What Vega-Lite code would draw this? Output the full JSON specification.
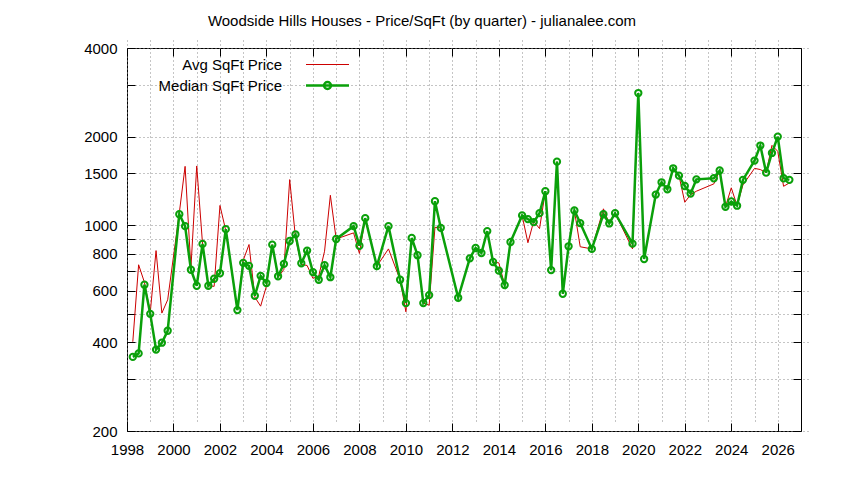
{
  "$schema": "https://vega.github.io/schema/vega-lite/v6.json",
  "description": "Woodside Hills houses, price per square foot by quarter",
  "width": 674,
  "height": 383,
  "autosize": {"type": "none"},
  "padding": {"left": 127, "top": 48, "right": 43, "bottom": 49},
  "background": "white",
  "title": {
    "text": "Woodside Hills Houses - Price/SqFt (by quarter) - julianalee.com",
    "font": "Liberation Sans",
    "fontSize": 15,
    "fontWeight": "normal",
    "color": "black",
    "anchor": "middle",
    "dx": -42,
    "offset": 12
  },
  "config": {
    "font": "Liberation Sans",
    "view": {"stroke": "black", "strokeWidth": 1},
    "axis": {
      "labelFont": "Liberation Sans",
      "labelFontSize": 15,
      "labelColor": "black",
      "labelFlush": false,
      "tickColor": "black",
      "domain": false,
      "title": null
    },
    "axisX": {"tickSize": 8, "offset": -8},
    "axisY": {"tickSize": 8, "offset": -8}
  },
  "data": {
    "values": [
      {"year": 1998.25, "series": "Median SqFt Price", "price": 357},
      {"year": 1998.5, "series": "Median SqFt Price", "price": 367},
      {"year": 1998.75, "series": "Median SqFt Price", "price": 628},
      {"year": 1999.0, "series": "Median SqFt Price", "price": 500},
      {"year": 1999.25, "series": "Median SqFt Price", "price": 378},
      {"year": 1999.5, "series": "Median SqFt Price", "price": 399},
      {"year": 1999.75, "series": "Median SqFt Price", "price": 438},
      {"year": 2000.25, "series": "Median SqFt Price", "price": 1090},
      {"year": 2000.5, "series": "Median SqFt Price", "price": 993},
      {"year": 2000.75, "series": "Median SqFt Price", "price": 706},
      {"year": 2001.0, "series": "Median SqFt Price", "price": 623},
      {"year": 2001.25, "series": "Median SqFt Price", "price": 864},
      {"year": 2001.5, "series": "Median SqFt Price", "price": 623},
      {"year": 2001.75, "series": "Median SqFt Price", "price": 658},
      {"year": 2002.0, "series": "Median SqFt Price", "price": 687},
      {"year": 2002.25, "series": "Median SqFt Price", "price": 970},
      {"year": 2002.75, "series": "Median SqFt Price", "price": 515},
      {"year": 2003.0, "series": "Median SqFt Price", "price": 745},
      {"year": 2003.25, "series": "Median SqFt Price", "price": 728},
      {"year": 2003.5, "series": "Median SqFt Price", "price": 576},
      {"year": 2003.75, "series": "Median SqFt Price", "price": 673},
      {"year": 2004.0, "series": "Median SqFt Price", "price": 636},
      {"year": 2004.25, "series": "Median SqFt Price", "price": 859},
      {"year": 2004.5, "series": "Median SqFt Price", "price": 671},
      {"year": 2004.75, "series": "Median SqFt Price", "price": 739},
      {"year": 2005.0, "series": "Median SqFt Price", "price": 884},
      {"year": 2005.25, "series": "Median SqFt Price", "price": 931},
      {"year": 2005.5, "series": "Median SqFt Price", "price": 743},
      {"year": 2005.75, "series": "Median SqFt Price", "price": 820},
      {"year": 2006.0, "series": "Median SqFt Price", "price": 693},
      {"year": 2006.25, "series": "Median SqFt Price", "price": 653},
      {"year": 2006.5, "series": "Median SqFt Price", "price": 732},
      {"year": 2006.75, "series": "Median SqFt Price", "price": 666},
      {"year": 2007.0, "series": "Median SqFt Price", "price": 898},
      {"year": 2007.75, "series": "Median SqFt Price", "price": 993},
      {"year": 2008.0, "series": "Median SqFt Price", "price": 852},
      {"year": 2008.25, "series": "Median SqFt Price", "price": 1057},
      {"year": 2008.75, "series": "Median SqFt Price", "price": 726},
      {"year": 2009.25, "series": "Median SqFt Price", "price": 993},
      {"year": 2009.75, "series": "Median SqFt Price", "price": 653},
      {"year": 2010.0, "series": "Median SqFt Price", "price": 544},
      {"year": 2010.25, "series": "Median SqFt Price", "price": 905},
      {"year": 2010.5, "series": "Median SqFt Price", "price": 791},
      {"year": 2010.75, "series": "Median SqFt Price", "price": 544},
      {"year": 2011.0, "series": "Median SqFt Price", "price": 579},
      {"year": 2011.25, "series": "Median SqFt Price", "price": 1207},
      {"year": 2011.5, "series": "Median SqFt Price", "price": 980},
      {"year": 2012.25, "series": "Median SqFt Price", "price": 567},
      {"year": 2012.75, "series": "Median SqFt Price", "price": 772},
      {"year": 2013.0, "series": "Median SqFt Price", "price": 837},
      {"year": 2013.25, "series": "Median SqFt Price", "price": 805},
      {"year": 2013.5, "series": "Median SqFt Price", "price": 955},
      {"year": 2013.75, "series": "Median SqFt Price", "price": 750},
      {"year": 2014.0, "series": "Median SqFt Price", "price": 701},
      {"year": 2014.25, "series": "Median SqFt Price", "price": 626},
      {"year": 2014.5, "series": "Median SqFt Price", "price": 877},
      {"year": 2015.0, "series": "Median SqFt Price", "price": 1080},
      {"year": 2015.25, "series": "Median SqFt Price", "price": 1049},
      {"year": 2015.5, "series": "Median SqFt Price", "price": 1025},
      {"year": 2015.75, "series": "Median SqFt Price", "price": 1099},
      {"year": 2016.0, "series": "Median SqFt Price", "price": 1305},
      {"year": 2016.25, "series": "Median SqFt Price", "price": 704},
      {"year": 2016.5, "series": "Median SqFt Price", "price": 1644},
      {"year": 2016.75, "series": "Median SqFt Price", "price": 585},
      {"year": 2017.0, "series": "Median SqFt Price", "price": 848},
      {"year": 2017.25, "series": "Median SqFt Price", "price": 1122},
      {"year": 2017.5, "series": "Median SqFt Price", "price": 1017},
      {"year": 2018.0, "series": "Median SqFt Price", "price": 831},
      {"year": 2018.5, "series": "Median SqFt Price", "price": 1090},
      {"year": 2018.75, "series": "Median SqFt Price", "price": 1014},
      {"year": 2019.0, "series": "Median SqFt Price", "price": 1099},
      {"year": 2019.75, "series": "Median SqFt Price", "price": 866},
      {"year": 2020.0, "series": "Median SqFt Price", "price": 2812},
      {"year": 2020.25, "series": "Median SqFt Price", "price": 768},
      {"year": 2020.75, "series": "Median SqFt Price", "price": 1271},
      {"year": 2021.0, "series": "Median SqFt Price", "price": 1399},
      {"year": 2021.25, "series": "Median SqFt Price", "price": 1325},
      {"year": 2021.5, "series": "Median SqFt Price", "price": 1561},
      {"year": 2021.75, "series": "Median SqFt Price", "price": 1474},
      {"year": 2022.0, "series": "Median SqFt Price", "price": 1359},
      {"year": 2022.25, "series": "Median SqFt Price", "price": 1281},
      {"year": 2022.5, "series": "Median SqFt Price", "price": 1432},
      {"year": 2023.25, "series": "Median SqFt Price", "price": 1444},
      {"year": 2023.5, "series": "Median SqFt Price", "price": 1534},
      {"year": 2023.75, "series": "Median SqFt Price", "price": 1155},
      {"year": 2024.0, "series": "Median SqFt Price", "price": 1204},
      {"year": 2024.25, "series": "Median SqFt Price", "price": 1165},
      {"year": 2024.5, "series": "Median SqFt Price", "price": 1426},
      {"year": 2025.0, "series": "Median SqFt Price", "price": 1658},
      {"year": 2025.25, "series": "Median SqFt Price", "price": 1865},
      {"year": 2025.5, "series": "Median SqFt Price", "price": 1509},
      {"year": 2025.75, "series": "Median SqFt Price", "price": 1760},
      {"year": 2026.0, "series": "Median SqFt Price", "price": 2000},
      {"year": 2026.25, "series": "Median SqFt Price", "price": 1444},
      {"year": 2026.5, "series": "Median SqFt Price", "price": 1426},

      {"year": 1998.25, "series": "Avg SqFt Price", "price": 402},
      {"year": 1998.5, "series": "Avg SqFt Price", "price": 734},
      {"year": 1998.75, "series": "Avg SqFt Price", "price": 640},
      {"year": 1999.0, "series": "Avg SqFt Price", "price": 505},
      {"year": 1999.25, "series": "Avg SqFt Price", "price": 820},
      {"year": 1999.5, "series": "Avg SqFt Price", "price": 503},
      {"year": 1999.75, "series": "Avg SqFt Price", "price": 558},
      {"year": 2000.25, "series": "Avg SqFt Price", "price": 1100},
      {"year": 2000.5, "series": "Avg SqFt Price", "price": 1585},
      {"year": 2000.75, "series": "Avg SqFt Price", "price": 715},
      {"year": 2001.0, "series": "Avg SqFt Price", "price": 1590},
      {"year": 2001.25, "series": "Avg SqFt Price", "price": 864},
      {"year": 2001.5, "series": "Avg SqFt Price", "price": 623},
      {"year": 2001.75, "series": "Avg SqFt Price", "price": 620},
      {"year": 2002.0, "series": "Avg SqFt Price", "price": 1167},
      {"year": 2002.25, "series": "Avg SqFt Price", "price": 960},
      {"year": 2002.75, "series": "Avg SqFt Price", "price": 515},
      {"year": 2003.0, "series": "Avg SqFt Price", "price": 760},
      {"year": 2003.25, "series": "Avg SqFt Price", "price": 860},
      {"year": 2003.5, "series": "Avg SqFt Price", "price": 570},
      {"year": 2003.75, "series": "Avg SqFt Price", "price": 531},
      {"year": 2004.0, "series": "Avg SqFt Price", "price": 621},
      {"year": 2004.25, "series": "Avg SqFt Price", "price": 859},
      {"year": 2004.5, "series": "Avg SqFt Price", "price": 665},
      {"year": 2004.75, "series": "Avg SqFt Price", "price": 708},
      {"year": 2005.0, "series": "Avg SqFt Price", "price": 1429},
      {"year": 2005.25, "series": "Avg SqFt Price", "price": 906},
      {"year": 2005.5, "series": "Avg SqFt Price", "price": 736},
      {"year": 2005.75, "series": "Avg SqFt Price", "price": 730},
      {"year": 2006.0, "series": "Avg SqFt Price", "price": 660},
      {"year": 2006.25, "series": "Avg SqFt Price", "price": 672},
      {"year": 2006.5, "series": "Avg SqFt Price", "price": 816},
      {"year": 2006.75, "series": "Avg SqFt Price", "price": 1264},
      {"year": 2007.0, "series": "Avg SqFt Price", "price": 898},
      {"year": 2007.75, "series": "Avg SqFt Price", "price": 942},
      {"year": 2008.0, "series": "Avg SqFt Price", "price": 802},
      {"year": 2008.25, "series": "Avg SqFt Price", "price": 1057},
      {"year": 2008.75, "series": "Avg SqFt Price", "price": 726},
      {"year": 2009.25, "series": "Avg SqFt Price", "price": 831},
      {"year": 2009.75, "series": "Avg SqFt Price", "price": 653},
      {"year": 2010.0, "series": "Avg SqFt Price", "price": 508},
      {"year": 2010.25, "series": "Avg SqFt Price", "price": 905},
      {"year": 2010.5, "series": "Avg SqFt Price", "price": 791},
      {"year": 2010.75, "series": "Avg SqFt Price", "price": 544},
      {"year": 2011.0, "series": "Avg SqFt Price", "price": 535},
      {"year": 2011.25, "series": "Avg SqFt Price", "price": 984},
      {"year": 2011.5, "series": "Avg SqFt Price", "price": 980},
      {"year": 2012.25, "series": "Avg SqFt Price", "price": 567},
      {"year": 2012.75, "series": "Avg SqFt Price", "price": 772},
      {"year": 2013.0, "series": "Avg SqFt Price", "price": 837},
      {"year": 2013.25, "series": "Avg SqFt Price", "price": 805},
      {"year": 2013.5, "series": "Avg SqFt Price", "price": 955},
      {"year": 2013.75, "series": "Avg SqFt Price", "price": 750},
      {"year": 2014.0, "series": "Avg SqFt Price", "price": 745},
      {"year": 2014.25, "series": "Avg SqFt Price", "price": 626},
      {"year": 2014.5, "series": "Avg SqFt Price", "price": 877},
      {"year": 2015.0, "series": "Avg SqFt Price", "price": 1080},
      {"year": 2015.25, "series": "Avg SqFt Price", "price": 872},
      {"year": 2015.5, "series": "Avg SqFt Price", "price": 1032},
      {"year": 2015.75, "series": "Avg SqFt Price", "price": 974},
      {"year": 2016.0, "series": "Avg SqFt Price", "price": 1305},
      {"year": 2016.25, "series": "Avg SqFt Price", "price": 704},
      {"year": 2016.5, "series": "Avg SqFt Price", "price": 1644},
      {"year": 2016.75, "series": "Avg SqFt Price", "price": 585},
      {"year": 2017.0, "series": "Avg SqFt Price", "price": 848},
      {"year": 2017.25, "series": "Avg SqFt Price", "price": 1122},
      {"year": 2017.5, "series": "Avg SqFt Price", "price": 845},
      {"year": 2018.0, "series": "Avg SqFt Price", "price": 831},
      {"year": 2018.5, "series": "Avg SqFt Price", "price": 1137},
      {"year": 2018.75, "series": "Avg SqFt Price", "price": 1014},
      {"year": 2019.0, "series": "Avg SqFt Price", "price": 1099},
      {"year": 2019.75, "series": "Avg SqFt Price", "price": 831},
      {"year": 2020.0, "series": "Avg SqFt Price", "price": 2812},
      {"year": 2020.25, "series": "Avg SqFt Price", "price": 768},
      {"year": 2020.75, "series": "Avg SqFt Price", "price": 1271},
      {"year": 2021.0, "series": "Avg SqFt Price", "price": 1399},
      {"year": 2021.25, "series": "Avg SqFt Price", "price": 1325},
      {"year": 2021.5, "series": "Avg SqFt Price", "price": 1561},
      {"year": 2021.75, "series": "Avg SqFt Price", "price": 1474},
      {"year": 2022.0, "series": "Avg SqFt Price", "price": 1197},
      {"year": 2022.25, "series": "Avg SqFt Price", "price": 1270},
      {"year": 2022.5, "series": "Avg SqFt Price", "price": 1305},
      {"year": 2023.25, "series": "Avg SqFt Price", "price": 1382},
      {"year": 2023.5, "series": "Avg SqFt Price", "price": 1534},
      {"year": 2023.75, "series": "Avg SqFt Price", "price": 1155},
      {"year": 2024.0, "series": "Avg SqFt Price", "price": 1340},
      {"year": 2024.25, "series": "Avg SqFt Price", "price": 1165},
      {"year": 2024.5, "series": "Avg SqFt Price", "price": 1370},
      {"year": 2025.0, "series": "Avg SqFt Price", "price": 1560},
      {"year": 2025.25, "series": "Avg SqFt Price", "price": 1546},
      {"year": 2025.5, "series": "Avg SqFt Price", "price": 1509},
      {"year": 2025.75, "series": "Avg SqFt Price", "price": 1868},
      {"year": 2026.0, "series": "Avg SqFt Price", "price": 1783},
      {"year": 2026.25, "series": "Avg SqFt Price", "price": 1356},
      {"year": 2026.5, "series": "Avg SqFt Price", "price": 1392}
    ]
  },
  "resolve": {"axis": {"x": "independent", "y": "independent"}},
  "layer": [
    {
      "description": "avg line, carries the labelled bottom and left axes",
      "transform": [{"filter": "datum.series == 'Avg SqFt Price'"}],
      "mark": {"type": "line", "strokeWidth": 1},
      "encoding": {
        "x": {
          "field": "year",
          "type": "quantitative",
          "scale": {"domain": [1998, 2027], "nice": false, "zero": false},
          "axis": {
            "orient": "bottom",
            "values": [1998, 1999, 2000, 2001, 2002, 2003, 2004, 2005, 2006, 2007, 2008, 2009, 2010, 2011, 2012, 2013, 2014, 2015, 2016, 2017, 2018, 2019, 2020, 2021, 2022, 2023, 2024, 2025, 2026],
            "format": "d",
            "labelExpr": "datum.value % 2 == 0 ? datum.label : ''",
            "labelOverlap": false,
            "labelPadding": 11,
            "tickOpacity": {"condition": {"test": "datum.value % 2 != 0", "value": 0}, "value": 1},
            "grid": true,
            "gridColor": "#8a8a8a",
            "gridDash": [1, 3],
            "gridWidth": 1
          }
        },
        "y": {
          "field": "price",
          "type": "quantitative",
          "scale": {"type": "log", "domain": [200, 4000], "nice": false},
          "axis": {
            "orient": "left",
            "values": [200, 300, 400, 500, 600, 700, 800, 900, 1000, 1500, 2000, 3000, 4000],
            "format": "d",
            "labelExpr": "indexof([200, 400, 600, 800, 1000, 1500, 2000, 4000], datum.value) >= 0 ? datum.label : ''",
            "labelOverlap": false,
            "labelPadding": 10,
            "grid": true,
            "gridColor": "#8a8a8a",
            "gridDash": [1, 3],
            "gridWidth": 1
          }
        },
        "color": {
          "field": "series",
          "type": "nominal",
          "scale": {"domain": ["Avg SqFt Price", "Median SqFt Price"], "range": ["#cc0000", "#0aa00a"]},
          "legend": {
            "title": null,
            "orient": "none",
            "legendX": 193,
            "legendY": 9,
            "direction": "vertical",
            "padding": 0,
            "symbolType": "stroke",
            "symbolSize": 1849,
            "symbolStrokeWidth": 1,
            "labelAlign": "right",
            "labelOffset": -53,
            "labelFont": "Liberation Sans",
            "labelFontSize": 15,
            "labelColor": "black",
            "labelLimit": 300,
            "rowPadding": 4,
            "encode": {
              "symbols": {
                "update": {
                  "shape": {"signal": "datum.value == 'Median SqFt Price' ? 'M-1,0L1,0M0.16,0A0.16,0.16,0,1,1,-0.16,0A0.16,0.16,0,1,1,0.16,0' : 'stroke'"},
                  "strokeWidth": {"signal": "datum.value == 'Median SqFt Price' ? 2.5 : 1"}
                }
              }
            }
          }
        }
      }
    },
    {
      "description": "median line, carries the mirrored top and right ticks",
      "transform": [{"filter": "datum.series == 'Median SqFt Price'"}],
      "mark": {"type": "line", "strokeWidth": 2.5},
      "encoding": {
        "x": {
          "field": "year",
          "type": "quantitative",
          "axis": {
            "orient": "top",
            "values": [1998, 1999, 2000, 2001, 2002, 2003, 2004, 2005, 2006, 2007, 2008, 2009, 2010, 2011, 2012, 2013, 2014, 2015, 2016, 2017, 2018, 2019, 2020, 2021, 2022, 2023, 2024, 2025, 2026],
            "labels": false,
            "tickOpacity": {"condition": {"test": "datum.value % 2 != 0", "value": 0}, "value": 1},
            "grid": false
          }
        },
        "y": {
          "field": "price",
          "type": "quantitative",
          "axis": {
            "orient": "right",
            "values": [200, 300, 400, 500, 600, 700, 800, 900, 1000, 1500, 2000, 3000, 4000],
            "labels": false,
            "grid": false
          }
        },
        "color": {"field": "series", "type": "nominal"}
      }
    },
    {
      "description": "open circles on the median",
      "transform": [{"filter": "datum.series == 'Median SqFt Price'"}],
      "mark": {"type": "point", "filled": false, "size": 40, "strokeWidth": 2, "color": "#0aa00a", "opacity": 1},
      "encoding": {
        "x": {"field": "year", "type": "quantitative", "axis": null},
        "y": {"field": "price", "type": "quantitative", "axis": null}
      }
    }
  ]
}
